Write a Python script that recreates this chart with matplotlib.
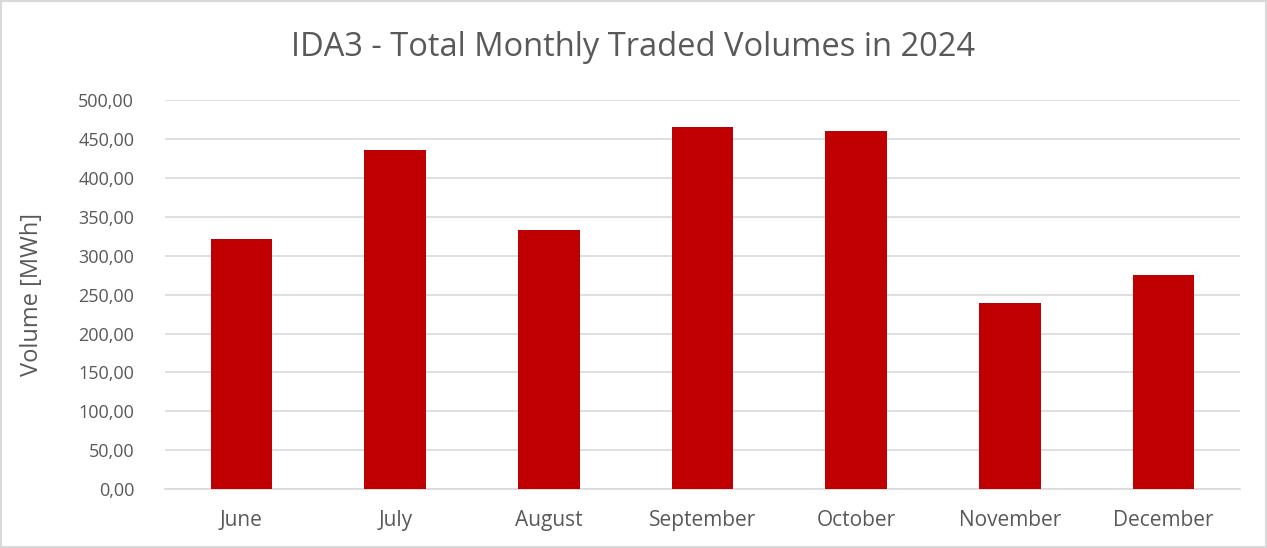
import matplotlib.pyplot as plt
from matplotlib.patches import Rectangle
from matplotlib.ticker import FuncFormatter

months = ["June", "July", "August", "September", "October", "November", "December"]
volumes = [321.2, 434.9, 332.3, 465.6, 460.5, 239.1, 274.6]
yticks = [0, 50, 100, 150, 200, 250, 300, 350, 400, 450, 500]

plt.rcParams["font.family"] = ["Open Sans", "DejaVu Sans"]
text_color = "#595959"

fig = plt.figure(figsize=(12.67, 5.48), dpi=100)
ax = fig.add_axes([0.130, 0.107, 0.849, 0.711])

ax.bar(range(len(months)), volumes, width=0.40, color="#C00000", zorder=3)

ax.set_xlim(-0.5, len(months) - 0.5)
ax.set_ylim(0, 500)
ax.set_yticks(yticks)
ax.yaxis.set_major_formatter(FuncFormatter(lambda v, p: f"{v:.2f}".replace(".", ",")))
ax.set_xticks(range(len(months)))
ax.set_xticklabels(months)

ax.grid(axis="y", color="#d9d9d9", linewidth=1.2, zorder=0)
for s in ["top", "right", "left"]:
    ax.spines[s].set_visible(False)
ax.spines["bottom"].set_color("#d9d9d9")
ax.spines["bottom"].set_linewidth(1.2)
ax.tick_params(axis="y", length=0, labelsize=13, labelcolor=text_color, pad=22)
ax.tick_params(axis="x", length=0, labelsize=15, labelcolor=text_color, pad=15)

ax.set_ylabel("Volume [MWh]", fontsize=17, color=text_color, labelpad=12)
ax.yaxis.set_label_coords(-0.112, 0.5)
fig.text(0.5, 0.913, "IDA3 - Total Monthly Traded Volumes in 2024", ha="center", va="center",
         fontsize=23.5, color=text_color)

fig.patches.append(Rectangle((0.001, 0.001), 0.998, 0.998, transform=fig.transFigure,
                             fill=False, edgecolor="#d9d9d9", linewidth=1.5))

fig.savefig("out.png", dpi=100)
